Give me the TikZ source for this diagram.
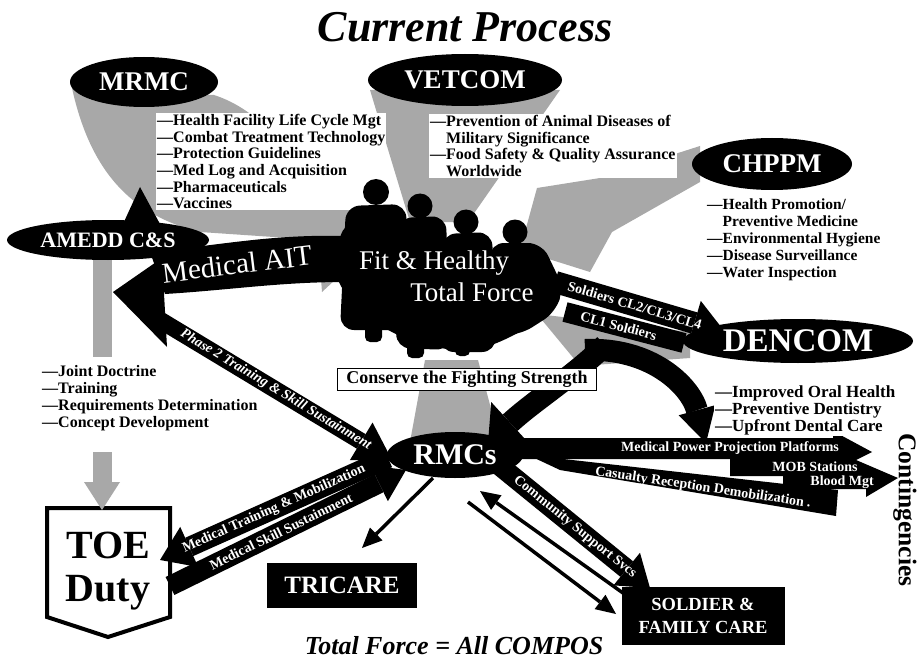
\documentclass[tikz,border=0pt]{standalone}
\usepackage{fontspec}
\setmainfont{Liberation Serif}
\usetikzlibrary{shapes.geometric,arrows.meta,calc}

\newcommand{\fsz}[2]{\fontsize{#1}{#2}\selectfont}

\begin{document}
\begin{tikzpicture}[x=1pt, y=-1pt]

\tikzstyle{unit}=[ellipse, fill=black, text=white, inner sep=0pt, font=\bfseries\fsz{27}{29}]
\tikzstyle{lst}=[anchor=north west, align=left, fill=white, inner sep=1pt, font=\bfseries\fsz{16}{16.7}]
\tikzstyle{funnel}=[fill=black!34]
\tikzstyle{band}=[draw=black, line width=20pt]
\tikzstyle{lbl}=[text=white, inner sep=0pt, font=\bfseries\fsz{14}{15}]
\tikzstyle{boxw}=[fill=black, text=white, align=center, font=\bfseries\fsz{25}{27}]
\tikzstyle{torso}=[fill=black, rounded corners=14pt]

\fill[white] (0,0) rectangle (919,658);
\useasboundingbox (0,0) rectangle (919,658);

% gray funnels towards the troops
\fill[funnel] (72,88) .. controls (90,170) and (130,215) .. (200,232) -- (318,240) -- (322,292) -- (376,242) -- (330,178) -- (322,200) .. controls (290,150) and (260,110) .. (214,95) -- cycle;
\fill[funnel] (370,90) -- (560,90) -- (468,222) -- (410,222) -- cycle;
\fill[funnel] (700,146) -- (600,178) -- (537,188) -- (520,250) -- (590,272) -- (612,232) -- (700,182) -- cycle;
\fill[funnel] (537,314) -- (690,332) -- (690,358) -- (580,366) -- cycle;
\fill[funnel] (410,442) -- (500,442) -- (478,360) -- (425,360) -- cycle;

% lists
\node(mrmcl)[lst] at (156,113) {---Health Facility Life Cycle Mgt\\---Combat Treatment Technology\\---Protection Guidelines\\---Med Log and Acquisition\\---Pharmaceuticals\\---Vaccines};
\node(vetl)[lst] at (429,114) {---Prevention of Animal Diseases of\\\phantom{---}Military Significance\\---Food Safety \& Quality Assurance\\\phantom{---}Worldwide};
\node(chppml)[lst, font=\bfseries\fsz{15.5}{17}] at (706,198) {---Health Promotion/\\\phantom{---}Preventive Medicine\\---Environmental Hygiene\\---Disease Surveillance\\---Water Inspection};
\node(ameddl)[lst, font=\bfseries\fsz{16}{17}] at (41,364) {---Joint Doctrine\\---Training\\---Requirements Determination\\---Concept Development};

% left side
\fill (345,236) .. controls (270,234) and (215,246) .. (150,252) -- (165,294) .. controls (230,290) and (280,282) .. (345,282) -- cycle;
\coordinate (amtip) at (140,187);
\fill ($(amtip)+(-17,37)$) -- ($(amtip)+(20,37)$) -- (amtip) -- cycle;

\coordinate (p2a) at (113,292);
\coordinate (p2s) at (150,314);
\coordinate (p2b) at (392,460);
\fill (p2a) -- (162,258) -- (167,347) -- cycle;
\draw[band, line width=17pt, -{Triangle[length=36pt,width=44pt,line width=0pt]}] (p2s) -- node[lbl, sloped, pos=0.52, font=\bfseries\itshape\fsz{14}{15}] (p2t) {Phase 2 Training \& Skill Sustainment} (p2b);

% TOE
\draw[line width=4pt, fill=white] (47,508) -- (170,508) -- (170,617) -- (108,637) -- (47,617) -- cycle;
\node(toe)[font=\bfseries\fsz{40}{43}, align=center] at (108,571) {TOE\\Duty};
\coordinate (barT) at (102,258);
\coordinate (barA) at (102,357);
\coordinate (barB) at (102,452);
\coordinate (toetop) at (102,510);
\draw[draw=black!34, line width=19pt] (barT) -- (barA);
\draw[draw=black!34, line width=19pt, -{Triangle[length=28pt,width=36pt,line width=0pt]}] (barB) -- (toetop);

% bottom
\coordinate (mtmA) at (388,458);
\coordinate (mtmB) at (160,560);
\draw[band, -{Triangle[length=32pt,width=44pt,line width=0pt]}] (mtmA) -- node[lbl, sloped, pos=0.5] (mtmt) {Medical Training \& Mobilization} (mtmB);
\coordinate (mssA) at (170,586);
\coordinate (mssB) at (406,470);
\draw[band, -{Triangle[length=30pt,width=40pt,line width=0pt]}] (mssA) -- node[lbl, sloped, pos=0.47] (msst) {Medical Skill Sustainment} (mssB);

\node(tricare)[boxw, minimum width=150pt, minimum height=45pt] at (342,585) {TRICARE};
\node(sfc)[boxw, minimum width=163pt, minimum height=58pt, font=\bfseries\fsz{18.5}{23}] at (703,616) {SOLDIER \&\\FAMILY CARE};

\coordinate (tcA) at (433,478);
\coordinate (tcB) at (362,548);
\draw[line width=3.5pt, -{Triangle[length=20pt,width=18pt,line width=0pt]}] (tcA) -- (tcB);
\coordinate (sfA) at (468,502);
\coordinate (sfB) at (616,614);
\coordinate (sfC) at (630,598);
\coordinate (sfD) at (480,491);
\draw[line width=3.5pt, -{Triangle[length=20pt,width=18pt,line width=0pt]}] (sfA) -- (sfB);
\draw[line width=3.5pt, -{Triangle[length=20pt,width=18pt,line width=0pt]}] (sfC) -- (sfD);

\coordinate (csA) at (500,466);
\coordinate (csB) at (650,588);
\draw[band, -{Triangle[length=30pt,width=42pt,line width=0pt]}] (csA) -- node[lbl, sloped, pos=0.5] (cst) {Community Support Svcs} (csB);

% contingencies
\fill (505,438) -- (833,438) -- (833,431) -- (872,452) -- (856,460) -- (898,478) -- (866,497) -- (866,489) -- (783,489) -- (783,476) -- (730,476) -- (730,459) -- (505,459) -- cycle;
\fill (528,455) -- (838,490) -- (836,516) -- (560,470) -- cycle;
\node(mpp)[lbl] at (730,448) {Medical Power Projection Platforms};
\node(mob)[lbl] at (815,467) {MOB Stations};
\node(blood)[lbl, anchor=east] at (874,482) {Blood Mgt};
\node(cas)[lbl, rotate=-8.5] at (703,488) {Casualty Reception Demobilization .};

% troops
\coordinate (arcA) at (585,350);
\coordinate (arcB) at (706,443);
\draw[line width=22pt, -{Triangle[length=34pt,width=38pt,line width=0pt]}] (arcA) .. controls (650,347) and (690,385) .. (arcB);
\coordinate (cvA) at (605,345);
\coordinate (cvB) at (488,443);
\draw[line width=22pt, -{Triangle[length=30pt,width=56pt,line width=0pt]}] (cvA) .. controls (575,375) and (535,400) .. (cvB);

\fill plot[smooth cycle] coordinates {(338,245) (350,225) (400,228) (440,238) (490,250) (540,255) (560,285) (556,306) (536,322) (512,336) (488,346) (460,350) (430,346) (400,336) (372,320) (350,300) (336,274)};
\fill[torso] (340,330) -- (346,206) -- (406,204) -- (410,330) -- cycle;
\fill[torso] (396,348) -- (398,218) -- (446,216) -- (450,350) -- cycle;
\fill[torso] (440,352) -- (442,234) -- (492,232) -- (496,352) -- cycle;
\fill[torso] (488,335) -- (490,243) -- (542,243) -- (563,287) -- (556,312) -- (520,335) -- cycle;
\fill (376,192) circle (13pt);
\fill (420,206) circle (12.5pt);
\fill (466,222) circle (12.5pt);
\fill (515,232) circle (12.5pt);
\fill[rounded corners=5pt] (365,300) rectangle (382,342);
\fill[rounded corners=5pt] (407,315) rectangle (424,358);
\fill[rounded corners=5pt] (455,330) rectangle (470,356);

\coordinate (cl2A) at (555,282);
\coordinate (cl2B) at (725,332);
\draw[band, line width=22pt, -{Triangle[length=32pt,width=46pt,line width=0pt]}] (cl2A) -- node[lbl, sloped, pos=0.47] (cl2t) {Soldiers CL2/CL3/CL4} (cl2B);
\coordinate (cl1A) at (684,343);
\coordinate (cl1B) at (565,312);
\draw[band] (cl1A) -- node[lbl, sloped, pos=0.55] (cl1t) {CL1 Soldiers} (cl1B);

\node(dencoml)[lst, font=\bfseries\fsz{17}{16.7}] at (714,385) {---Improved Oral Health\\---Preventive Dentistry\\---Upfront Dental Care};

% units
\node(mrmc)[unit, minimum width=148pt, minimum height=50pt] at (144,82) {MRMC};
\node(vetcom)[unit, minimum width=194pt, minimum height=52pt] at (465,80) {VETCOM};
\node(chppm)[unit, minimum width=160pt, minimum height=52pt] at (772,164) {CHPPM};
\node(amedd)[unit, minimum width=202pt, minimum height=40pt, font=\bfseries\fsz{22}{24}] at (108,240) {AMEDD C\&S};
\node(dencom)[unit, minimum width=230pt, minimum height=44pt, font=\bfseries\fsz{33}{34}] at (798,341) {DENCOM};
\node(rmcs)[unit, minimum width=136pt, minimum height=46pt, font=\bfseries\fsz{30}{32}] at (455,455) {RMCs};

% texts
\node(title)[anchor=base, font=\bfseries\itshape\fsz{44}{48}] at (465,42) {Current Process};
\node(ait)[text=white, rotate=7, font=\fsz{29}{31}] at (237,264) {Medical AIT};
\node(fit)[text=white, font=\fsz{27}{29}] at (434,263) {Fit \& Healthy};
\node(force)[text=white, font=\fsz{27}{29}] at (472,292) {Total Force};
\node(fight)[draw, line width=0.8pt, fill=white, inner sep=2pt, minimum width=259pt, minimum height=22pt, font=\bfseries\fsz{18}{20}] at (467,379) {Conserve the Fighting Strength};
\node(cont)[rotate=-90, font=\bfseries\fsz{25.5}{27}] at (905,510) {Contingencies};
\node(total)[anchor=base, font=\bfseries\itshape\fsz{26}{28}] at (454,654) {Total Force = All COMPOS};

\end{tikzpicture}
\end{document}
